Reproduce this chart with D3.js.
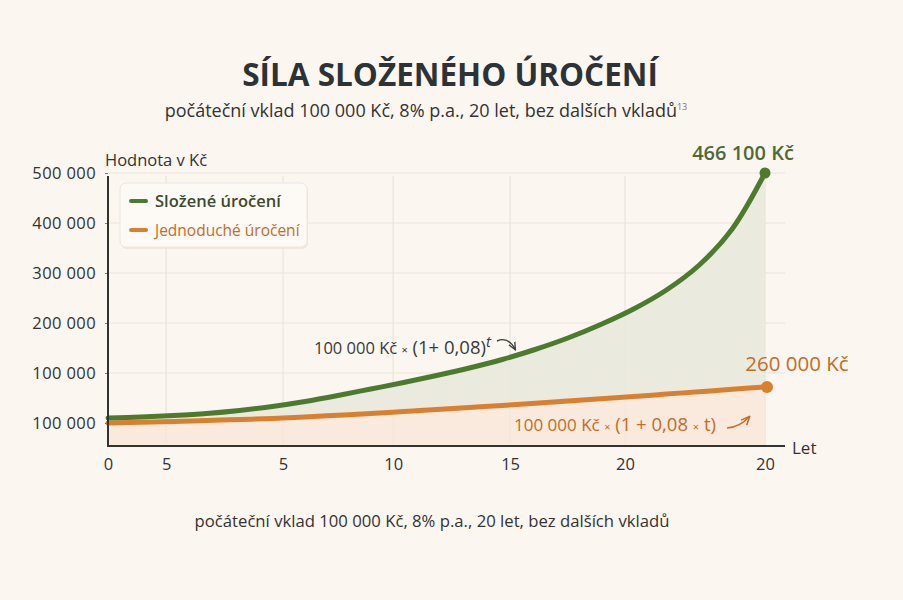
<!DOCTYPE html>
<html>
<head>
<meta charset="utf-8">
<script src="https://cdn.jsdelivr.net/npm/d3@7"></script>
<style>
  html, body { margin: 0; padding: 0; background: #fcf6f1; }
  svg { display: block; font-family: "Open Sans", "Noto Sans", sans-serif; }
</style>
</head>
<body>
<script>
// years on the x axis
var years = d3.range(0, 21);

// values (in the drawn axis units)
var compound = [10000, 12000, 15000, 19000, 25000, 33000, 43000, 55000, 68000, 81000,
                95000, 110000, 127000, 147000, 170000, 197000, 228000, 266000, 316000, 388000, 500000];
var simple = [0, 1500, 3200, 5000, 7000, 9000, 12000, 15500, 19000, 23000,
              27000, 31000, 35000, 39500, 44000, 48500, 53000, 57800, 62600, 67400, 72000];

// tick positions and their labels as printed in the picture
var xTickPos = [0, 1.77, 5.33, 8.68, 12.24, 15.74, 20];
var xTickLabels = ["0", "5", "5", "10", "15", "20", "20"];
var yTickVals = [0, 100000, 200000, 300000, 400000, 500000];
var yTickLabels = ["100 000", "100 000", "200 000", "300 000", "400 000", "500 000"];

var seriesNames = ["Složené úročení", "Jednoduché úročení"];
var endLabels = ["466 100 Kč", "260 000 Kč"];

function init() {
    var w = 903, h = 600;
    var green = "#4e7a30", orange = "#d8802f";

    var plotLeft = 108, plotRight = 785, plotTop = 176, plotBottom = 446;

    var x = d3.scaleLinear().domain([0, 20]).range([108, 765]);
    var y = d3.scaleLinear().domain([0, 500000]).range([423, 173]);

    var svg = d3.select("body").append("svg")
        .attr("width", w)
        .attr("height", h);

    svg.append("rect").attr("width", w).attr("height", h).attr("fill", "#fcf6f1");

    // title + subtitle
    svg.append("text")
        .attr("x", 450).attr("y", 86)
        .attr("text-anchor", "middle")
        .attr("font-size", 31.5).attr("font-weight", 700)
        .attr("fill", "#2c3236")
        .text("SÍLA SLOŽENÉHO ÚROČENÍ");

    var sub = svg.append("text")
        .attr("x", 426).attr("y", 117)
        .attr("text-anchor", "middle")
        .attr("font-size", 18)
        .attr("fill", "#333");
    sub.append("tspan").text("počáteční vklad 100 000 Kč, 8% p.a., 20 let, bez dalších vkladů");
    sub.append("tspan").attr("dy", -7).attr("font-size", 9).attr("fill", "#777").text("13");

    // grid
    var grid = svg.append("g");
    grid.selectAll(".hg")
        .data(yTickVals.slice(1))
        .enter().append("line")
        .attr("x1", plotLeft).attr("x2", plotRight)
        .attr("y1", function (d) { return y(d); })
        .attr("y2", function (d) { return y(d); })
        .attr("stroke", "#ebe3db").attr("stroke-width", 1.2);
    grid.selectAll(".vg")
        .data(xTickPos.slice(1))
        .enter().append("line")
        .attr("x1", function (d) { return x(d); })
        .attr("x2", function (d) { return x(d); })
        .attr("y1", plotTop).attr("y2", plotBottom)
        .attr("stroke", "#ebe3db").attr("stroke-width", 1.2);

    var curve = d3.curveCatmullRom.alpha(0.5);

    // fills
    var areaLow = d3.area()
        .x(function (d, i) { return x(years[i]); })
        .y0(plotBottom)
        .y1(function (d) { return y(d); })
        .curve(curve);
    svg.append("path").datum(simple)
        .attr("d", areaLow)
        .attr("fill", "#f9e6d8").attr("opacity", 0.8);

    var areaBetween = d3.area()
        .x(function (d, i) { return x(years[i]); })
        .y0(function (d, i) { return y(simple[i]); })
        .y1(function (d) { return y(d); })
        .curve(curve);
    svg.append("path").datum(compound)
        .attr("d", areaBetween)
        .attr("fill", "#e8eadb").attr("opacity", 0.9);

    // lines
    var line = d3.line()
        .x(function (d, i) { return x(years[i]); })
        .y(function (d) { return y(d); })
        .curve(curve);
    svg.append("path").datum(simple)
        .attr("d", line).attr("fill", "none")
        .attr("stroke", orange).attr("stroke-width", 5).attr("stroke-linecap", "round");
    svg.append("path").datum(compound)
        .attr("d", line).attr("fill", "none")
        .attr("stroke", green).attr("stroke-width", 5).attr("stroke-linecap", "round");

    // end dots
    svg.append("circle").attr("cx", x(20)).attr("cy", y(compound[20])).attr("r", 5.5).attr("fill", green);
    svg.append("circle").attr("cx", x(20) + 2).attr("cy", y(simple[20])).attr("r", 6).attr("fill", orange);

    // axes
    var yAxis = d3.axisLeft(y)
        .tickValues(yTickVals)
        .tickFormat(function (d, i) { return yTickLabels[i]; })
        .tickSize(3).tickPadding(9);
    var gy = svg.append("g").attr("transform", "translate(" + plotLeft + ",0)").call(yAxis);
    gy.select(".domain").remove();
    gy.selectAll("text").attr("font-size", 16.5).attr("letter-spacing", 0.4)
        .attr("fill", "#333").attr("font-family", "Open Sans, sans-serif");
    gy.selectAll("line").attr("stroke", "#777");

    var xAxis = d3.axisBottom(x)
        .tickValues(xTickPos)
        .tickFormat(function (d, i) { return xTickLabels[i]; })
        .tickSize(0).tickPadding(12);
    var gx = svg.append("g").attr("transform", "translate(0," + plotBottom + ")").call(xAxis);
    gx.select(".domain").remove();
    gx.selectAll("text").attr("font-size", 16.5).attr("fill", "#333").attr("font-family", "Open Sans, sans-serif");

    svg.append("line")
        .attr("x1", plotLeft).attr("x2", plotLeft)
        .attr("y1", plotTop).attr("y2", plotBottom + 1)
        .attr("stroke", "#333").attr("stroke-width", 2);
    svg.append("line")
        .attr("x1", plotLeft - 1).attr("x2", plotRight)
        .attr("y1", plotBottom).attr("y2", plotBottom)
        .attr("stroke", "#333").attr("stroke-width", 2);

    svg.append("text").attr("x", 105).attr("y", 166)
        .attr("font-size", 16.5).attr("fill", "#333").text("Hodnota v Kč");
    svg.append("text").attr("x", 792).attr("y", 454)
        .attr("font-size", 17).attr("fill", "#333").text("Let");

    // legend
    var lg = svg.append("g").attr("transform", "translate(120,183)");
    lg.append("rect").attr("x", 1).attr("y", 2).attr("width", 187).attr("height", 64).attr("rx", 6)
        .attr("fill", "#e8ddd3").attr("opacity", 0.6);
    lg.append("rect").attr("width", 187).attr("height", 64).attr("rx", 6)
        .attr("fill", "#fdf9f5").attr("stroke", "#efe6dd");
    var lgColors = [green, orange];
    var lgText = ["#3e4a2e", "#c46d28"];
    var lgSize = [16.5, 15.5];
    var items = lg.selectAll(".it").data(seriesNames).enter().append("g")
        .attr("transform", function (d, i) { return "translate(0," + (18 + i * 29) + ")"; });
    items.append("line").attr("x1", 11).attr("x2", 26)
        .attr("stroke", function (d, i) { return lgColors[i]; })
        .attr("stroke-width", 4).attr("stroke-linecap", "round");
    items.append("text").attr("x", 35).attr("y", 6)
        .attr("font-size", function (d, i) { return lgSize[i]; })
        .attr("font-weight", function (d, i) { return i === 0 ? 600 : 400; })
        .attr("fill", function (d, i) { return lgText[i]; })
        .text(function (d) { return d; });

    // end labels
    svg.append("text").attr("x", 743).attr("y", 160).attr("text-anchor", "middle")
        .attr("font-size", 20).attr("font-weight", 600).attr("fill", "#4f6a34").text(endLabels[0]);
    svg.append("text").attr("x", 797).attr("y", 371).attr("text-anchor", "middle")
        .attr("font-size", 20.5).attr("font-weight", 400).attr("fill", "#c46d28").text(endLabels[1]);

    // formula annotations
    var f1 = svg.append("text").attr("x", 314).attr("y", 354)
        .attr("font-size", 16.5).attr("fill", "#3a3a3a");
    f1.append("tspan").text("100 000 Kč ");
    f1.append("tspan").attr("font-size", 11).text("×");
    f1.append("tspan").attr("font-size", 18.5).text(" (1+ 0,08)");
    f1.append("tspan").attr("dy", -7).attr("font-size", 15).attr("font-style", "italic").text("t");

    var f2 = svg.append("text").attr("x", 514).attr("y", 431)
        .attr("font-size", 17).attr("fill", "#c46d28");
    f2.append("tspan").text("100 000 Kč ");
    f2.append("tspan").attr("font-size", 11).text("×");
    f2.append("tspan").attr("font-size", 18.5).text(" (1 + 0,08 ");
    f2.append("tspan").attr("font-size", 11).text("×");
    f2.append("tspan").attr("font-size", 18.5).text(" t)");

    var defs = svg.append("defs");
    [["ah1", "#3a3a3a"], ["ah2", "#c46d28"]].forEach(function (a) {
        defs.append("marker").attr("id", a[0]).attr("viewBox", "0 0 10 10")
            .attr("refX", 8).attr("refY", 5).attr("markerWidth", 6).attr("markerHeight", 6)
            .attr("orient", "auto")
            .append("path").attr("d", "M0,1 L9,5 L0,9").attr("fill", "none")
            .attr("stroke", a[1]).attr("stroke-width", 1.6);
    });
    svg.append("path").attr("d", "M497,341 Q508,336 515,349")
        .attr("fill", "none").attr("stroke", "#3a3a3a").attr("stroke-width", 1.4)
        .attr("marker-end", "url(#ah1)");
    svg.append("path").attr("d", "M727,428 Q740,427 749,417")
        .attr("fill", "none").attr("stroke", "#c46d28").attr("stroke-width", 1.6)
        .attr("marker-end", "url(#ah2)");

    // footnote
    svg.append("text").attr("x", 432).attr("y", 527).attr("text-anchor", "middle")
        .attr("font-size", 16.7).attr("fill", "#333")
        .text("počáteční vklad 100 000 Kč, 8% p.a., 20 let, bez dalších vkladů");
}

window.onload = init;
</script>
</body>
</html>
